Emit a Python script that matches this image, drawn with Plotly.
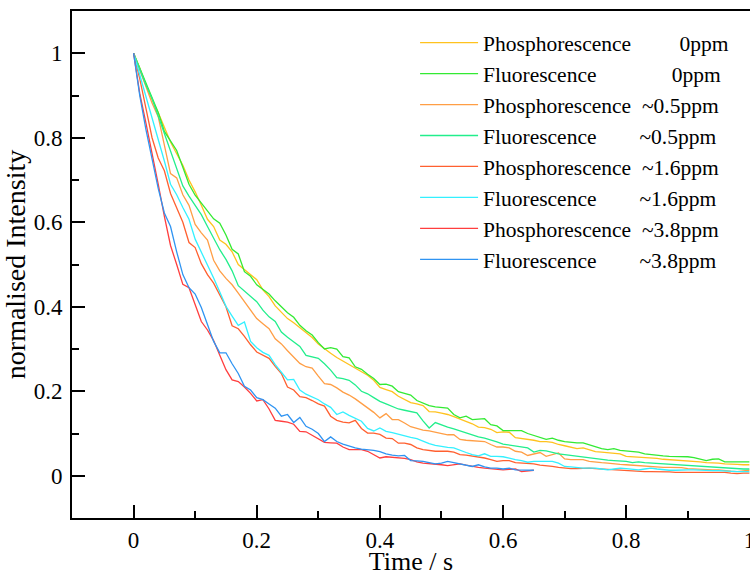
import plotly.graph_objects as go

# time grid (s), sampled every 10 ms
time_long = [round(i * 0.01, 2) for i in range(101)]
time_short = [round(i * 0.01, 2) for i in range(66)]

phos_0 = [1.000, 0.965, 0.925, 0.890, 0.860, 0.825, 0.790, 0.762, 0.735, 0.700,
          0.672, 0.640, 0.607, 0.590, 0.558, 0.548, 0.530, 0.500, 0.488, 0.478,
          0.464, 0.440, 0.424, 0.402, 0.386, 0.372, 0.362, 0.351, 0.338, 0.327,
          0.312, 0.300, 0.290, 0.280, 0.272, 0.263, 0.254, 0.246, 0.238, 0.226,
          0.209, 0.204, 0.199, 0.188, 0.181, 0.173, 0.170, 0.166, 0.152, 0.151,
          0.148, 0.145, 0.140, 0.134, 0.129, 0.123, 0.115, 0.114, 0.110, 0.102,
          0.104, 0.103, 0.090, 0.088, 0.087, 0.084, 0.081, 0.081, 0.079, 0.074,
          0.071, 0.067, 0.064, 0.066, 0.061, 0.057, 0.056, 0.055, 0.054, 0.052,
          0.046, 0.045, 0.045, 0.044, 0.043, 0.041, 0.039, 0.038, 0.037, 0.037,
          0.036, 0.035, 0.033, 0.031, 0.031, 0.030, 0.028, 0.028, 0.027, 0.026,
          0.026]
fluo_0 = [1.000, 0.965, 0.930, 0.895, 0.860, 0.815, 0.793, 0.770, 0.730, 0.690,
          0.664, 0.645, 0.625, 0.608, 0.598, 0.570, 0.536, 0.525, 0.483, 0.472,
          0.452, 0.440, 0.430, 0.414, 0.400, 0.386, 0.375, 0.356, 0.343, 0.333,
          0.315, 0.300, 0.303, 0.300, 0.282, 0.279, 0.258, 0.252, 0.240, 0.230,
          0.216, 0.217, 0.212, 0.199, 0.195, 0.191, 0.178, 0.172, 0.166, 0.163,
          0.162, 0.160, 0.145, 0.137, 0.141, 0.133, 0.134, 0.135, 0.121, 0.118,
          0.107, 0.107, 0.108, 0.107, 0.100, 0.095, 0.090, 0.086, 0.089, 0.084,
          0.081, 0.079, 0.078, 0.078, 0.073, 0.069, 0.064, 0.062, 0.064, 0.060,
          0.059, 0.057, 0.056, 0.052, 0.050, 0.048, 0.047, 0.046, 0.046, 0.045,
          0.045, 0.043, 0.040, 0.036, 0.039, 0.040, 0.033, 0.033, 0.033, 0.033,
          0.033]
phos_05 = [1.000, 0.960, 0.920, 0.882, 0.850, 0.785, 0.715, 0.705, 0.665, 0.640,
           0.595, 0.575, 0.558, 0.510, 0.485, 0.467, 0.452, 0.432, 0.412, 0.395,
           0.372, 0.360, 0.348, 0.324, 0.312, 0.296, 0.282, 0.266, 0.258, 0.255,
           0.236, 0.218, 0.216, 0.208, 0.198, 0.191, 0.182, 0.172, 0.160, 0.150,
           0.137, 0.147, 0.133, 0.133, 0.125, 0.116, 0.112, 0.108, 0.106, 0.103,
           0.100, 0.097, 0.097, 0.086, 0.084, 0.083, 0.082, 0.081, 0.074, 0.068,
           0.068, 0.066, 0.058, 0.056, 0.048, 0.052, 0.055, 0.046, 0.050, 0.054,
           0.040, 0.038, 0.038, 0.038, 0.034, 0.032, 0.031, 0.030, 0.028, 0.027,
           0.026, 0.025, 0.024, 0.023, 0.022, 0.020, 0.020, 0.020, 0.020, 0.019,
           0.017, 0.016, 0.016, 0.015, 0.014, 0.014, 0.012, 0.011, 0.010, 0.012,
           0.013]
fluo_05 = [1.000, 0.962, 0.925, 0.893, 0.852, 0.810, 0.768, 0.728, 0.686, 0.662,
           0.640, 0.618, 0.590, 0.562, 0.535, 0.512, 0.485, 0.450, 0.438, 0.425,
           0.412, 0.392, 0.376, 0.365, 0.340, 0.328, 0.318, 0.306, 0.285, 0.282,
           0.278, 0.265, 0.250, 0.232, 0.230, 0.226, 0.215, 0.200, 0.194, 0.185,
           0.176, 0.170, 0.164, 0.158, 0.155, 0.152, 0.149, 0.130, 0.113, 0.126,
           0.120, 0.115, 0.111, 0.106, 0.101, 0.097, 0.092, 0.089, 0.085, 0.080,
           0.075, 0.073, 0.071, 0.068, 0.066, 0.056, 0.060, 0.059, 0.055, 0.052,
           0.050, 0.048, 0.046, 0.044, 0.042, 0.040, 0.038, 0.037, 0.036, 0.035,
           0.034, 0.031, 0.033, 0.031, 0.030, 0.029, 0.028, 0.028, 0.026, 0.025,
           0.024, 0.023, 0.022, 0.021, 0.020, 0.019, 0.018, 0.018, 0.017, 0.016,
           0.016]
phos_16 = [1.000, 0.940, 0.870, 0.800, 0.752, 0.722, 0.668, 0.632, 0.600, 0.552,
           0.540, 0.502, 0.476, 0.456, 0.426, 0.400, 0.355, 0.348, 0.330, 0.310,
           0.293, 0.286, 0.278, 0.259, 0.242, 0.210, 0.203, 0.187, 0.185, 0.178,
           0.170, 0.165, 0.141, 0.131, 0.127, 0.125, 0.131, 0.112, 0.101, 0.101,
           0.098, 0.089, 0.088, 0.077, 0.077, 0.074, 0.066, 0.062, 0.060, 0.058,
           0.058, 0.058, 0.056, 0.050, 0.049, 0.047, 0.044, 0.042, 0.038, 0.034,
           0.036, 0.036, 0.031, 0.030, 0.030, 0.028, 0.025, 0.024, 0.022, 0.020,
           0.018, 0.017, 0.017, 0.018, 0.018, 0.017, 0.016, 0.015, 0.014, 0.013,
           0.013, 0.012, 0.011, 0.010, 0.010, 0.010, 0.010, 0.009, 0.008, 0.008,
           0.008, 0.008, 0.008, 0.008, 0.008, 0.008, 0.008, 0.006, 0.005, 0.006,
           0.006]
fluo_16 = [1.000, 0.950, 0.898, 0.850, 0.800, 0.745, 0.690, 0.665, 0.635, 0.607,
           0.560, 0.530, 0.500, 0.468, 0.435, 0.401, 0.378, 0.356, 0.364, 0.318,
           0.303, 0.292, 0.285, 0.263, 0.245, 0.227, 0.228, 0.203, 0.193, 0.187,
           0.180, 0.170, 0.162, 0.145, 0.151, 0.143, 0.136, 0.129, 0.112, 0.106,
           0.113, 0.105, 0.102, 0.098, 0.095, 0.091, 0.088, 0.082, 0.076, 0.072,
           0.069, 0.067, 0.066, 0.060, 0.055, 0.050, 0.047, 0.052, 0.046, 0.046,
           0.045, 0.042, 0.038, 0.036, 0.032, 0.034, 0.034, 0.034, 0.034, 0.030,
           0.022, 0.021, 0.019, 0.018, 0.018, 0.018, 0.016, 0.014, 0.016, 0.018,
           0.017, 0.015, 0.014, 0.016, 0.018, 0.016, 0.014, 0.013, 0.013, 0.014,
           0.014, 0.014, 0.013, 0.013, 0.012, 0.012, 0.011, 0.010, 0.010, 0.010,
           0.010]
phos_38 = [1.000, 0.905, 0.835, 0.765, 0.690, 0.614, 0.545, 0.500, 0.453, 0.445,
           0.405, 0.365, 0.345, 0.320, 0.285, 0.251, 0.227, 0.223, 0.210, 0.195,
           0.177, 0.180, 0.158, 0.131, 0.129, 0.127, 0.122, 0.105, 0.104, 0.095,
           0.087, 0.079, 0.078, 0.077, 0.068, 0.062, 0.062, 0.062, 0.058, 0.050,
           0.042, 0.045, 0.044, 0.042, 0.041, 0.038, 0.033, 0.030, 0.029, 0.028,
           0.026, 0.024, 0.026, 0.028, 0.025, 0.022, 0.020, 0.018, 0.017, 0.015,
           0.014, 0.015, 0.016, 0.010, 0.012, 0.013]
fluo_38 = [1.000, 0.900, 0.820, 0.750, 0.680, 0.622, 0.590, 0.530, 0.476, 0.445,
           0.430, 0.398, 0.360, 0.318, 0.291, 0.291, 0.265, 0.242, 0.212, 0.203,
           0.185, 0.180, 0.170, 0.160, 0.141, 0.145, 0.126, 0.138, 0.117, 0.110,
           0.100, 0.081, 0.092, 0.081, 0.075, 0.070, 0.066, 0.063, 0.062, 0.060,
           0.057, 0.052, 0.049, 0.047, 0.048, 0.036, 0.035, 0.034, 0.031, 0.028,
           0.030, 0.034, 0.031, 0.028, 0.025, 0.022, 0.026, 0.021, 0.018, 0.018,
           0.016, 0.018, 0.014, 0.014, 0.013, 0.013]

NB = "\u00a0"
series_names = [
    "Phosphorescence" + NB * 9 + "0ppm",
    "Fluorescence" + NB * 14 + "0ppm",
    "Phosphorescence" + NB * 2 + "~0.5ppm",
    "Fluorescence" + NB * 8 + "~0.5ppm",
    "Phosphorescence" + NB * 2 + "~1.6ppm",
    "Fluorescence" + NB * 8 + "~1.6ppm",
    "Phosphorescence" + NB * 2 + "~3.8ppm",
    "Fluorescence" + NB * 8 + "~3.8ppm",
]
series_x = [time_long] * 6 + [time_short] * 2
series_y = [phos_0, fluo_0, phos_05, fluo_05, phos_16, fluo_16, phos_38, fluo_38]
series_colors = ["#FFC21E", "#33EA33", "#FF9E45", "#22EE8C",
                 "#FF6030", "#33F0FF", "#FF3E3E", "#2F94F2"]

FONT = "Liberation Serif"

fig = go.Figure()
for name, xs, ys, col in zip(series_names, series_x, series_y, series_colors):
    fig.add_trace(go.Scatter(x=xs, y=ys, mode="lines", name=name,
                             line=dict(color=col, width=1.3)))

axis_common = dict(
    showgrid=False, zeroline=False, showline=True, linecolor="black", linewidth=2,
    ticks="inside", ticklen=13, tickwidth=1.5, tickcolor="black",
    tickfont=dict(family=FONT, size=23, color="black"),
    dtick=0.2, tick0=0, automargin=False,
)

fig.update_xaxes(**axis_common, range=[-0.1, 1.001], mirror=True,
                 ticklabeloverflow="allow",
                 minor=dict(ticks="inside", ticklen=7, tickwidth=1.5, dtick=0.1, tick0=0,
                            tickcolor="black"),
                 title=dict(text="Time / s", font=dict(family=FONT, size=26, color="black"),
                            standoff=2))
fig.update_yaxes(**axis_common, range=[-0.1, 1.1], ticklabelstandoff=3,
                 minor=dict(ticks="inside", ticklen=7, tickwidth=1.5, dtick=0.1, tick0=0,
                            tickcolor="black"),
                 title=dict(text="normalised Intensity",
                            font=dict(family=FONT, size=28, color="black"), standoff=2))

fig.update_layout(
    width=750, height=576,
    margin=dict(l=72, r=0, t=11, b=58),
    paper_bgcolor="white", plot_bgcolor="white",
    font=dict(family=FONT, color="black"),
    legend=dict(x=0.506, y=0.978, xanchor="left", yanchor="top",
                bgcolor="rgba(0,0,0,0)", borderwidth=0, itemwidth=58,
                font=dict(family=FONT, size=21.5, color="black"),
                tracegroupgap=0),
)

fig.write_html(
    "out.html",
    config={"displayModeBar": False},
    post_script="document.body.style.margin='0';document.body.style.overflow='hidden';",
)
